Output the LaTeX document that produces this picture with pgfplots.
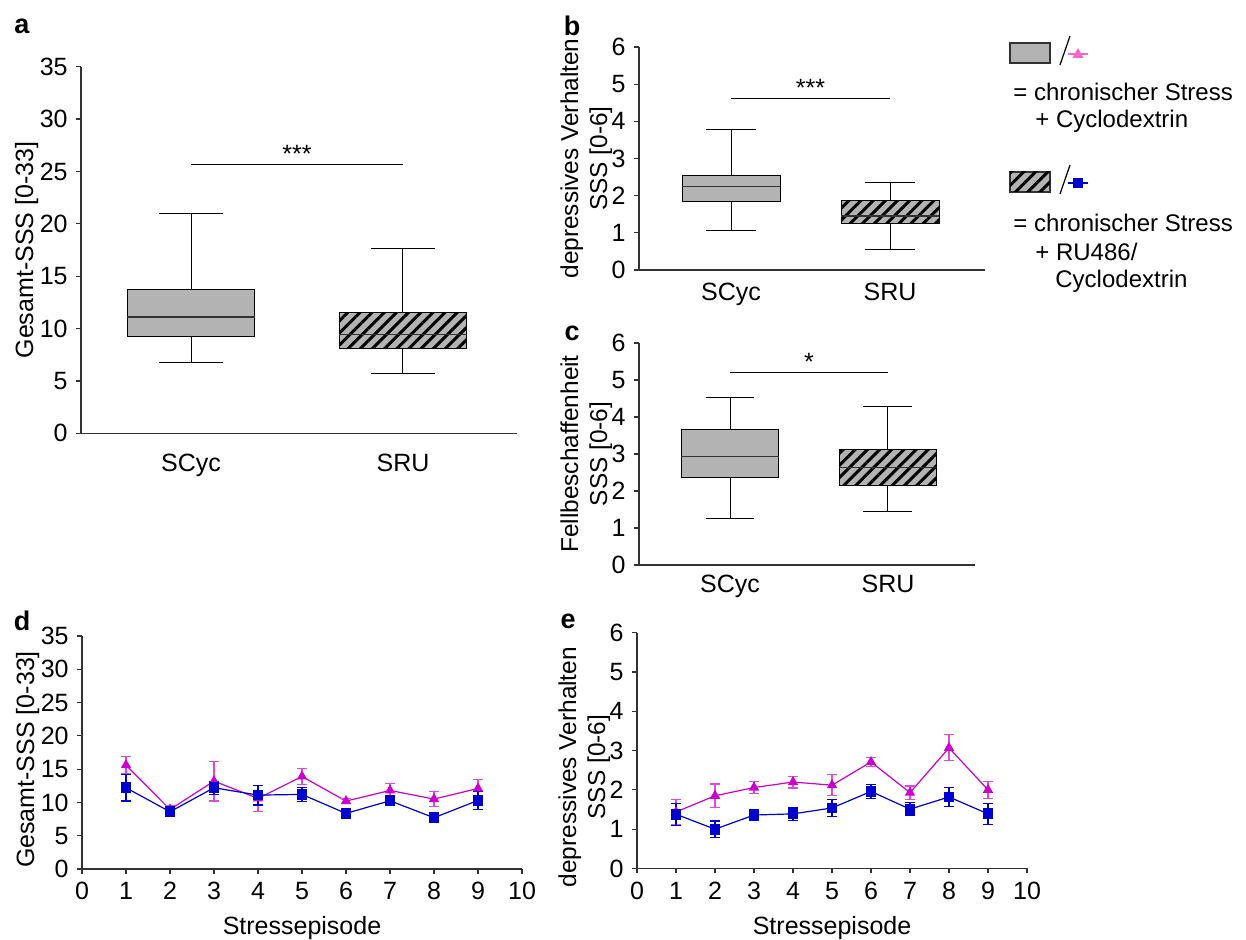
\documentclass[border=0pt]{standalone}
\usepackage{fontspec}
\setmainfont{Liberation Sans}
\usepackage{pgfplots}
\pgfplotsset{compat=1.18}
\usepgfplotslibrary{statistics}
\usetikzlibrary{patterns.meta}
\definecolor{boxgray}{RGB}{179,179,179}
\definecolor{mag}{RGB}{204,0,204}
\definecolor{blu}{RGB}{0,0,204}
\definecolor{pinkleg}{RGB}{255,102,204}
\definecolor{axgray}{RGB}{50,50,50}
\pgfplotsset{
  base/.style={scale only axis, anchor=south west, clip=false,
    axis x line*=bottom, axis y line*=left,
    axis line style={axgray, line width=0.6pt, -},
    tick style={axgray, line width=0.6pt}, tick align=outside, major tick length=2.5pt,
    /pgf/number format/assume math mode=true,
    tick label style={font=\fontsize{12.5}{14}\selectfont},
    label style={font=\fontsize{12.5}{15}\selectfont, align=center}},
  twoline/.style={ylabel style={font=\fontsize{12.2}{14.5}\selectfont}},
  boxax/.style={base, xtick={1,2}, xticklabels={SCyc,SRU},
    major x tick style={draw=none}, ymin=0},
  bx/.style={boxplot/draw direction=y, draw=black, line width=0.5pt,
    boxplot/box extend=0.6, boxplot/whisker extend=0.3,
    boxplot/every box/.style={fill=boxgray},
    boxplot/every median/.style={axgray, line width=0.7pt}},
  hx/.style={bx, boxplot/every box/.style={fill=boxgray,
    postaction={pattern={Lines[angle=45,distance=4.3pt,line width=1.5pt]}, pattern color=black}}},
  lineax/.style={base, xmin=0, xmax=10, xtick={0,1,...,10}, ymin=0, xlabel={Stressepisode}},
  magp/.style={mag, line width=0.6pt, mark=triangle*, mark size=2.4pt, mark options={fill=mag},
    error bars/.cd, y dir=both, y explicit,
    error bar style={mag!70, line width=0.6pt},
    error mark options={rotate=90, mark size=2.5pt, mag!70, line width=0.6pt}},
  blup/.style={blu, line width=0.6pt, mark=square*, mark size=2.4pt, mark options={fill=blu},
    error bars/.cd, y dir=both, y explicit,
    error bar style={blu, line width=0.6pt},
    error mark options={rotate=90, mark size=2.5pt, blu, line width=0.6pt}},
}
\begin{document}
\fontsize{12}{15}\selectfont
\begin{tikzpicture}
\useasboundingbox (0,0) rectangle (623pt,470pt);

% ---------- panel a
\begin{axis}[boxax, at={(40.5pt,253.35pt)}, width=218pt, height=183.3pt,
  xmin=0.481, xmax=2.538, ymax=35, ytick={0,5,...,35},
  xticklabel style={yshift=-3.5pt}, ylabel shift=-7.5pt,
  ylabel={Gesamt-SSS [0-33]}]
\addplot[bx, boxplot prepared={draw position=1, lower whisker=6.76, lower quartile=9.27,
  median=11.1, upper quartile=13.7, upper whisker=21.0}] coordinates {};
\addplot[hx, boxplot prepared={draw position=2, lower whisker=5.74, lower quartile=8.1,
  median=9.46, upper quartile=11.5, upper whisker=17.6}] coordinates {};
\addplot[black, line width=0.5pt] coordinates {(1,25.7) (2,25.7)};
\node[anchor=south, yshift=-3.5pt, font=\fontsize{12.5}{14}\selectfont] at (axis cs:1.5,25.7) {***};
\end{axis}

% ---------- panel b
\begin{axis}[boxax, twoline, at={(319.5pt,335pt)}, width=173pt, height=111.5pt,
  xmin=0.421, xmax=2.597, ymax=6, ytick={0,1,...,6},
  xticklabel style={yshift=0pt}, ylabel shift=-8.5pt,
  ylabel={depressives Verhalten\\SSS [0-6]}]
\addplot[bx, boxplot/box extend=0.616, boxplot/whisker extend=0.31,
  boxplot prepared={draw position=1, lower whisker=1.05, lower quartile=1.85,
  median=2.24, upper quartile=2.55, upper whisker=3.78}] coordinates {};
\addplot[hx, boxplot/box extend=0.616, boxplot/whisker extend=0.31,
  boxplot prepared={draw position=2, lower whisker=0.55, lower quartile=1.26,
  median=1.45, upper quartile=1.88, upper whisker=2.36}] coordinates {};
\addplot[black, line width=0.5pt] coordinates {(1,4.62) (2,4.62)};
\node[anchor=south, yshift=-3.5pt, font=\fontsize{12.5}{14}\selectfont] at (axis cs:1.5,4.62) {***};
\end{axis}

% ---------- panel c
\begin{axis}[boxax, twoline, at={(319.5pt,187.5pt)}, width=168pt, height=111pt,
  xmin=0.424, xmax=2.551, ymax=6, ytick={0,1,...,6},
  xticklabel style={yshift=1.5pt}, ylabel shift=-8.5pt,
  ylabel={Fellbeschaffenheit\\SSS [0-6]}]
\addplot[bx, boxplot/box extend=0.62, boxplot/whisker extend=0.31,
  boxplot prepared={draw position=1, lower whisker=1.25, lower quartile=2.37,
  median=2.94, upper quartile=3.65, upper whisker=4.54}] coordinates {};
\addplot[hx, boxplot/box extend=0.62, boxplot/whisker extend=0.31,
  boxplot prepared={draw position=2, lower whisker=1.44, lower quartile=2.14,
  median=2.64, upper quartile=3.12, upper whisker=4.28}] coordinates {};
\addplot[black, line width=0.5pt] coordinates {(1,5.19) (2,5.19)};
\node[anchor=south, yshift=-3pt, font=\fontsize{12.5}{14}\selectfont] at (axis cs:1.5,5.19) {*};
\end{axis}

% ---------- panel d
\begin{axis}[lineax, at={(41pt,35.5pt)}, width=220pt, height=116.5pt,
  ylabel shift=-7.5pt, ylabel style={at={(ticklabel cs:0.47)}},
  ymax=35, ytick={0,5,...,35}, ylabel={Gesamt-SSS [0-33]}]
\addplot[magp] coordinates {
 (1,15.6) +- (0,1.3) (2,8.95) +- (0,0.5) (3,13.2) +- (0,3.0) (4,10.6) +- (0,2.0)
 (5,13.9) +- (0,1.2) (6,10.2) +- (0,0.4) (7,11.8) +- (0,1.1) (8,10.5) +- (0,1.1)
 (9,12.1) +- (0,1.3)};
\addplot[blup] coordinates {
 (1,12.2) +- (0,2.0) (2,8.6) +- (0,0.7) (3,12.2) +- (0,1.0) (4,11.1) +- (0,1.5)
 (5,11.2) +- (0,1.1) (6,8.35) +- (0,0.3) (7,10.25) +- (0,0.35) (8,7.7) +- (0,0.6)
 (9,10.3) +- (0,1.4)};
\end{axis}

% ---------- panel e
\begin{axis}[lineax, twoline, at={(318.5pt,35.75pt)}, width=195pt, height=117.9pt,
  ylabel shift=-8.5pt, ylabel style={at={(ticklabel cs:0.43)}},
  ymax=6, ytick={0,1,...,6}, ylabel={depressives Verhalten\\SSS [0-6]}]
\addplot[magp] coordinates {
 (1,1.44) +- (0,0.32) (2,1.85) +- (0,0.3) (3,2.06) +- (0,0.15) (4,2.2) +- (0,0.15)
 (5,2.12) +- (0,0.27) (6,2.71) +- (0,0.11) (7,1.93) +- (0,0.17) (8,3.07) +- (0,0.33)
 (9,2.0) +- (0,0.22)};
\addplot[blup] coordinates {
 (1,1.38) +- (0,0.28) (2,1.0) +- (0,0.21) (3,1.36) +- (0,0.13) (4,1.39) +- (0,0.17)
 (5,1.54) +- (0,0.22) (6,1.96) +- (0,0.17) (7,1.51) +- (0,0.17) (8,1.82) +- (0,0.24)
 (9,1.39) +- (0,0.27)};
\end{axis}

% ---------- panel letters and legend (pixel coordinates, y down)
\begin{scope}[shift={(0pt,470pt)}, x=0.5pt, y=-0.5pt]
\node[font=\bfseries\fontsize{13.5}{15}\selectfont] at (22,26) {a};
\node[font=\bfseries\fontsize{13.5}{15}\selectfont] at (572,26) {b};
\node[font=\bfseries\fontsize{13.5}{15}\selectfont] at (572,333) {c};
\node[font=\bfseries\fontsize{13.5}{15}\selectfont] at (22,621) {d};
\node[font=\bfseries\fontsize{13.5}{15}\selectfont] at (568,621) {e};
\draw[fill=boxgray, draw=axgray, line width=0.6pt] (1010,43) rectangle (1050,63);
\draw[black, line width=0.6pt] (1060,65) -- (1070,36);
\draw[pinkleg, line width=0.8pt] (1068,54) -- (1088,54);
\fill[pinkleg] (1072.5,58) -- (1083.5,58) -- (1078,48) -- cycle;
\node[anchor=west, inner sep=0pt] at (1013,92) {= chronischer Stress};
\node[anchor=west, inner sep=0pt] at (1035,121) {+ Cyclodextrin};
\draw[fill=boxgray, draw=axgray, line width=0.6pt, postaction={pattern={Lines[angle=45,distance=4.3pt,line width=1.5pt]}, pattern color=black}] (1010,172) rectangle (1050,192);
\draw[black, line width=0.6pt] (1060,194) -- (1070,165);
\draw[blu, line width=0.8pt] (1068,183) -- (1088,183);
\fill[blu] (1073,178) rectangle (1083,188);
\node[anchor=west, inner sep=0pt] at (1013,223) {= chronischer Stress};
\node[anchor=west, inner sep=0pt] at (1035,252) {+ RU486/};
\node[anchor=west, inner sep=0pt] at (1055,281) {Cyclodextrin};
\end{scope}
\end{tikzpicture}
\end{document}
